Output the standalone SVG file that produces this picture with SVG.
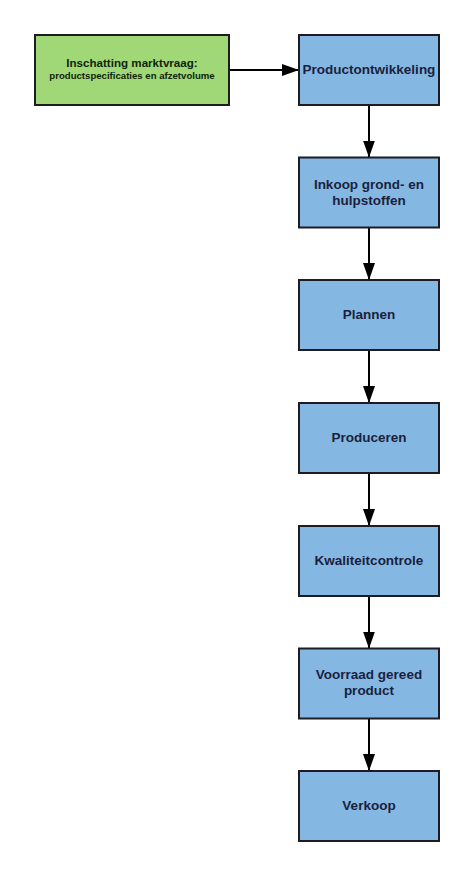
<svg xmlns="http://www.w3.org/2000/svg" width="474" height="877" viewBox="0 0 474 877">
<style>
.box{fill:#85b7e3;stroke:#1c1c22;stroke-width:2}
.green{fill:#a0d877;stroke:#1c1c22;stroke-width:2}
.t{font-family:"Liberation Sans",Arial,sans-serif;font-weight:bold;font-size:13.5px;fill:#1a1f3c;text-anchor:middle}
.g1{font-family:"Liberation Sans",Arial,sans-serif;font-weight:bold;font-size:11.6px;fill:#10240a;text-anchor:middle}
.g2{font-family:"Liberation Sans",Arial,sans-serif;font-weight:bold;font-size:9.6px;fill:#10240a;text-anchor:middle}
.c{stroke:#000;stroke-width:2;fill:none}
</style>
<defs>
<marker id="ah" markerWidth="17" markerHeight="12" refX="17" refY="6" orient="auto" markerUnits="userSpaceOnUse">
<path d="M0,0 L17,6 L0,12 Z" fill="#000"/>
</marker>
</defs>
<rect width="474" height="877" fill="#fff"/>
<g id="connectors">
<line class="c" x1="229" y1="70" x2="299" y2="70" marker-end="url(#ah)"/>
<line class="c" x1="369" y1="105" x2="369" y2="157.5" marker-end="url(#ah)"/>
<line class="c" x1="369" y1="227.5" x2="369" y2="280" marker-end="url(#ah)"/>
<line class="c" x1="369" y1="350" x2="369" y2="403" marker-end="url(#ah)"/>
<line class="c" x1="369" y1="473" x2="369" y2="526" marker-end="url(#ah)"/>
<line class="c" x1="369" y1="596" x2="369" y2="648.5" marker-end="url(#ah)"/>
<line class="c" x1="369" y1="718.5" x2="369" y2="771" marker-end="url(#ah)"/>
</g>
<g id="marktvraag">
<rect class="green" x="35" y="35" width="194" height="70"/>
<text class="g1" x="132" y="67">Inschatting marktvraag:</text>
<text class="g2" x="132" y="78.5">productspecificaties en afzetvolume</text>
</g>
<g id="productontwikkeling">
<rect class="box" x="299" y="35" width="140" height="70"/>
<text class="t" x="369" y="74">Productontwikkeling</text>
</g>
<g id="inkoop">
<rect class="box" x="299" y="157.5" width="140" height="70"/>
<text class="t" x="369" y="188.5">Inkoop grond- en</text>
<text class="t" x="369" y="204.5">hulpstoffen</text>
</g>
<g id="plannen">
<rect class="box" x="299" y="280" width="140" height="70"/>
<text class="t" x="369" y="319">Plannen</text>
</g>
<g id="produceren">
<rect class="box" x="299" y="403" width="140" height="70"/>
<text class="t" x="369" y="442">Produceren</text>
</g>
<g id="kwaliteitcontrole">
<rect class="box" x="299" y="526" width="140" height="70"/>
<text class="t" x="369" y="564.5">Kwaliteitcontrole</text>
</g>
<g id="voorraad">
<rect class="box" x="299" y="648.5" width="140" height="70"/>
<text class="t" x="369" y="678.5">Voorraad gereed</text>
<text class="t" x="369" y="694.5">product</text>
</g>
<g id="verkoop">
<rect class="box" x="299" y="771" width="140" height="70"/>
<text class="t" x="369" y="810">Verkoop</text>
</g>
</svg>
